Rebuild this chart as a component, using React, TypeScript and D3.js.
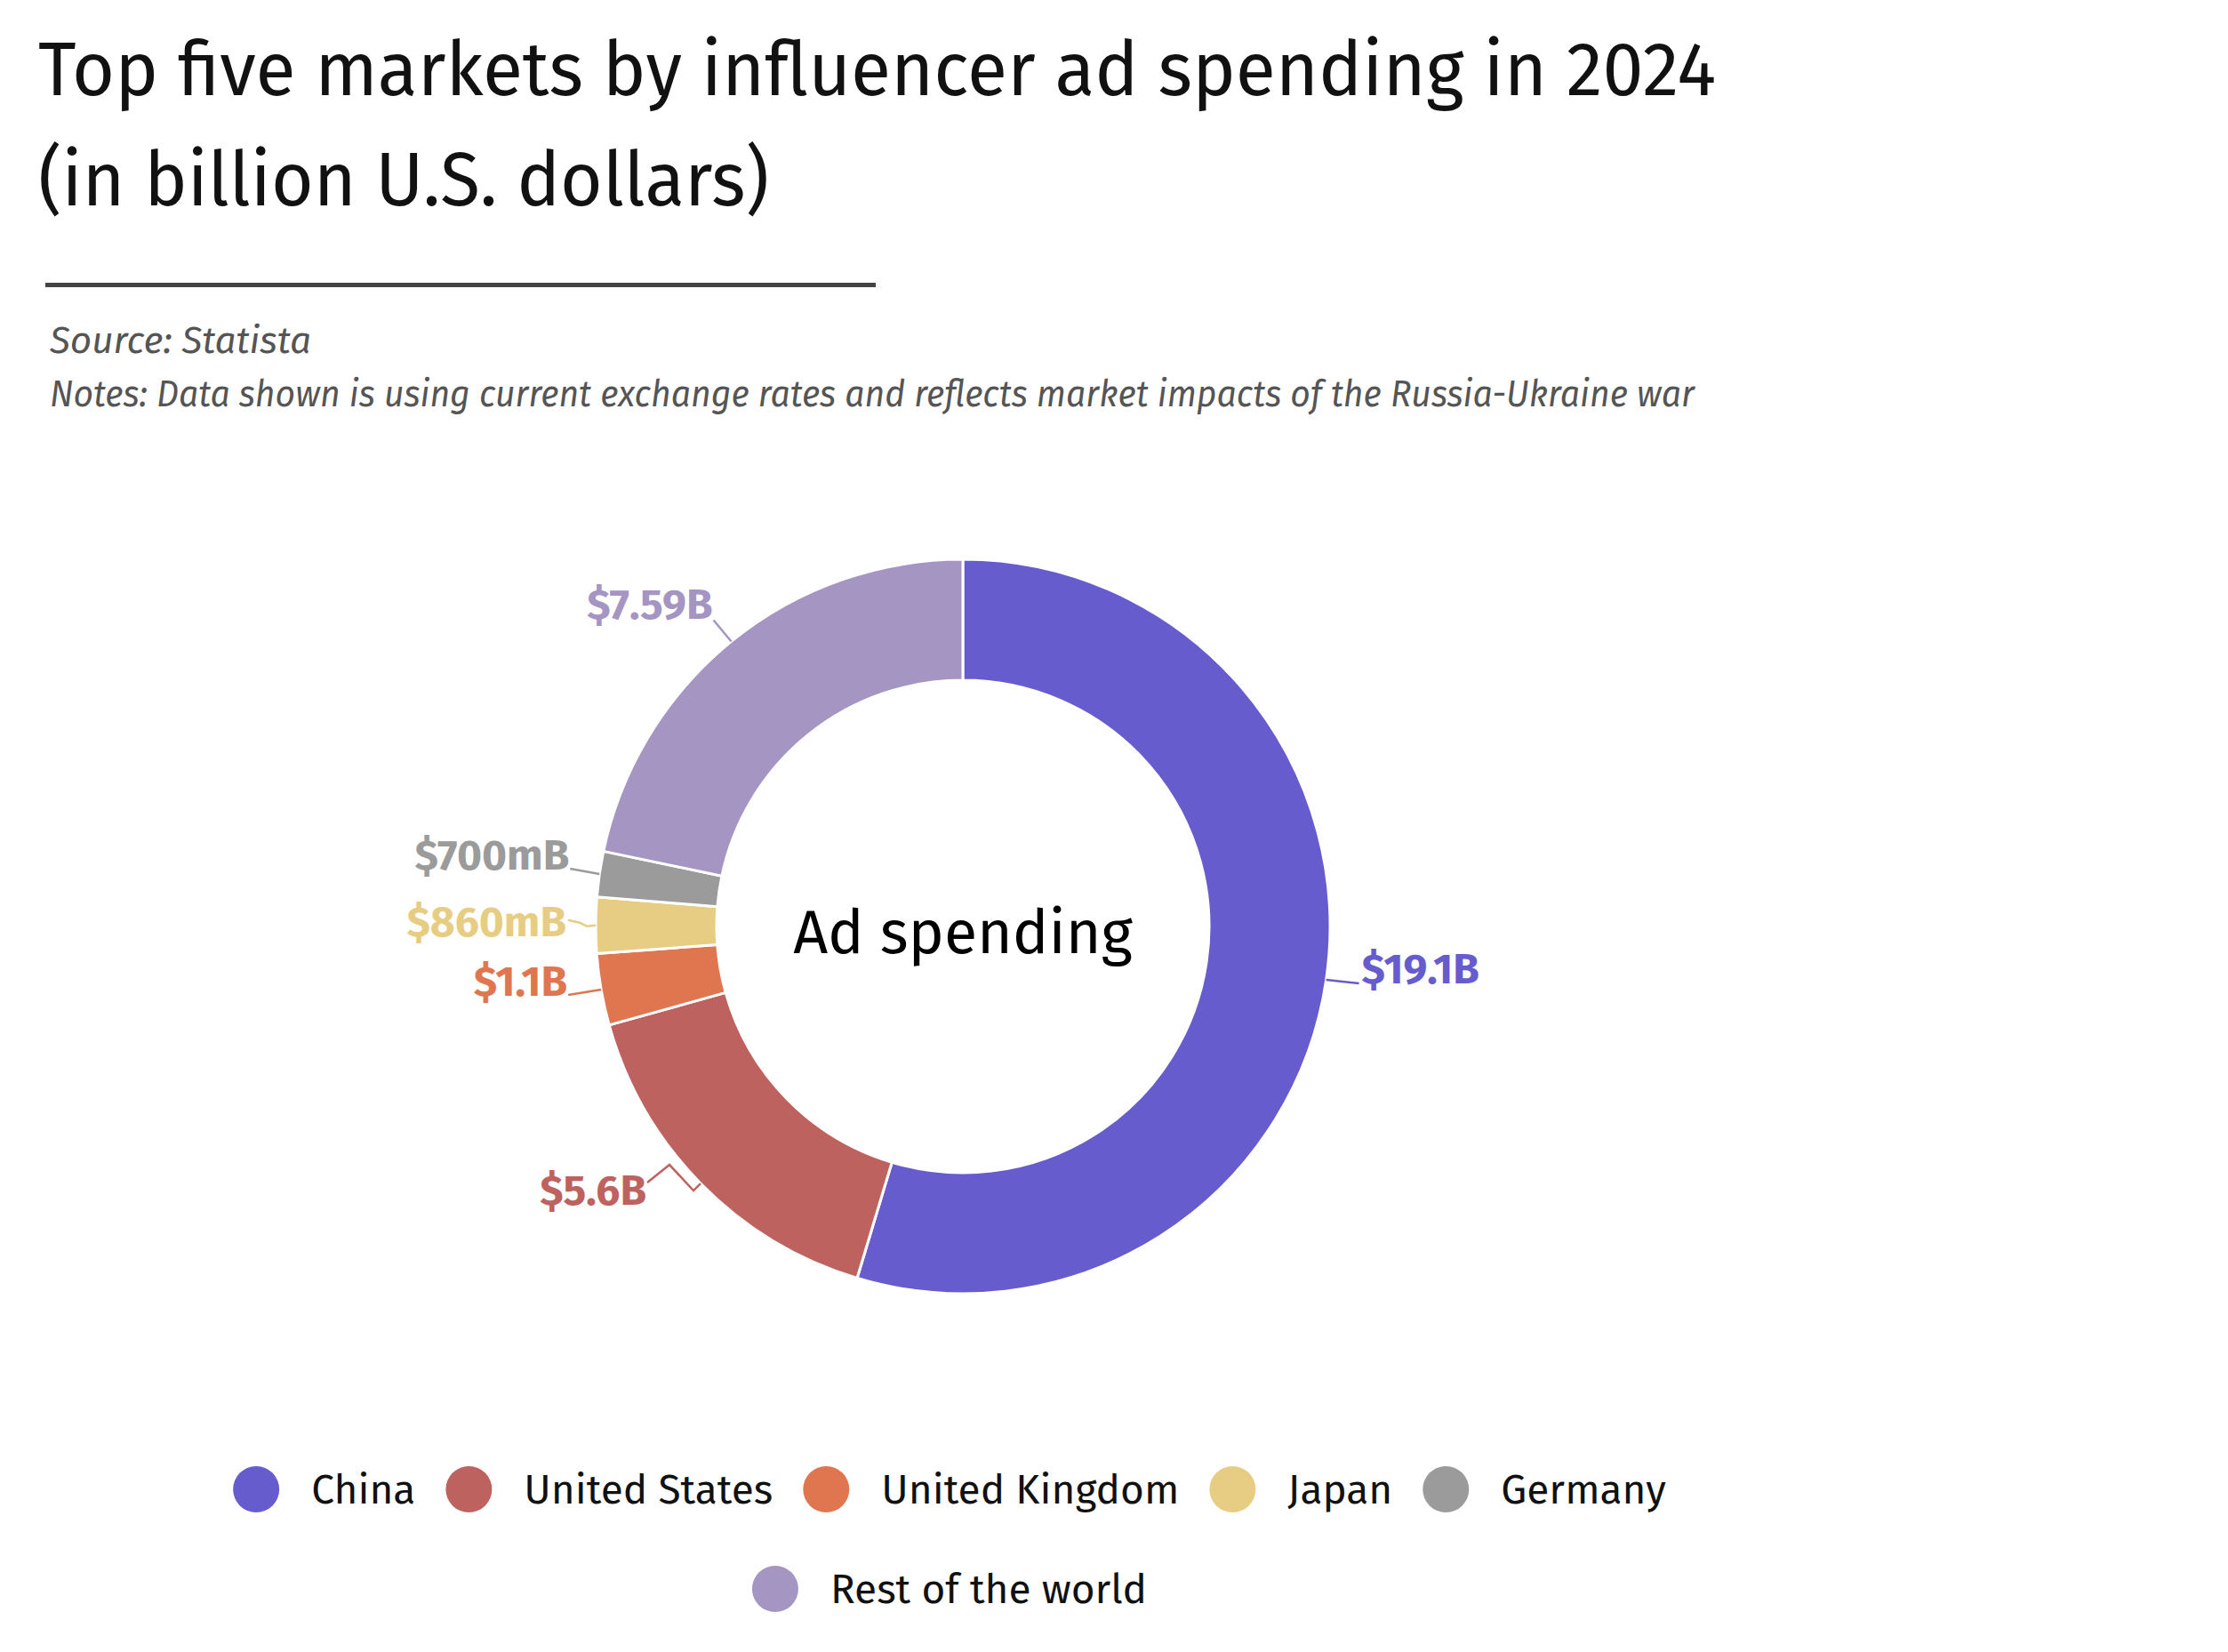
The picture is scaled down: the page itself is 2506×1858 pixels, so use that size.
import React, { useRef, useEffect } from "react";
import * as d3 from "d3";

const categories = ["China", "United States", "United Kingdom", "Japan", "Germany", "Rest of the world"];
const values = [19.1, 5.6, 1.1, 0.86, 0.7, 7.59];
const valueLabels = ["$19.1B", "$5.6B", "$1.1B", "$860mB", "$700mB", "$7.59B"];
const colors = ["#675ccd", "#be625f", "#df7650", "#e7cd83", "#9b9b9b", "#a595c2"];

const title = ["Top five markets by influencer ad spending in 2024", "(in billion U.S. dollars)"];
const source = "Source: Statista";
const notes = "Notes: Data shown is using current exchange rates and reflects market impacts of the Russia-Ukraine war";
const centerLabel = "Ad spending";

// leader lines: offsets from the outer mid point of each slice
const leaders = [
  { pts: [[37, 4]], text: [3, 0], anchor: "start" },
  { pts: [[-8, 8], [-35, -21], [-60, -1]], text: [-1, 25], anchor: "end" },
  { pts: [[-37, 6]], text: [-1, 1], anchor: "end" },
  { pts: [[-10, 1], [-18, -3], [-31, -6]], text: [-2, 18], anchor: "end" },
  { pts: [[-33, -6]], text: [-1, 1], anchor: "end" },
  { pts: [[-20, -24]], text: [-1, -1], anchor: "end" },
];

const FONT = "'Fira Sans', Roboto, 'Noto Sans', sans-serif";
const W = 2506;
const H = 1858;

const App = () => {
  const ref = useRef<SVGSVGElement>(null);

  useEffect(() => {
    const svg = d3.select(ref.current);
    svg.selectAll("*").remove();

    // header
    const head = svg.append("g").style("font-family", FONT);
    head.append("text").attr("x", 43).attr("y", 107).attr("font-size", 86).attr("fill", "#111")
      .attr("textLength", 1887).attr("lengthAdjust", "spacingAndGlyphs").text(title[0]);
    head.append("text").attr("x", 43).attr("y", 231).attr("font-size", 86).attr("fill", "#111")
      .attr("textLength", 822).attr("lengthAdjust", "spacingAndGlyphs").text(title[1]);
    head.append("rect").attr("x", 51).attr("y", 318).attr("width", 934).attr("height", 5).attr("fill", "#444");
    head.append("text").attr("x", 56).attr("y", 397).attr("font-size", 42).attr("font-style", "italic")
      .attr("fill", "#555").attr("textLength", 294).attr("lengthAdjust", "spacingAndGlyphs").text(source);
    head.append("text").attr("x", 56).attr("y", 457).attr("font-size", 42).attr("font-style", "italic")
      .attr("fill", "#555").attr("textLength", 1850).attr("lengthAdjust", "spacingAndGlyphs").text(notes);

    // donut
    const cx = 1083, cy = 1042, R = 413, r = 277;
    const data = categories.map((c, i) => ({ label: c, value: values[i], color: colors[i], text: valueLabels[i] }));
    const pie = d3.pie<any>().sort(null).value((d) => d.value);
    const arc = d3.arc<any>().innerRadius(r).outerRadius(R);
    const arcs = pie(data);

    const g = svg.append("g").attr("transform", `translate(${cx},${cy})`);
    g.selectAll("path.slice").data(arcs).enter().append("path")
      .attr("class", "slice")
      .attr("d", arc)
      .attr("fill", (d) => d.data.color)
      .attr("stroke", "#fff")
      .attr("stroke-width", 3)
      .attr("stroke-linejoin", "round");

    arcs.forEach((d, i) => {
      const a = (d.startAngle + d.endAngle) / 2;
      const p0: [number, number] = [R * Math.sin(a), -R * Math.cos(a)];
      const lay = leaders[i];
      const pts = [p0, ...lay.pts.map(([dx, dy]) => [p0[0] + dx, p0[1] + dy] as [number, number])];
      g.append("path")
        .attr("d", d3.line()(pts))
        .attr("fill", "none")
        .attr("stroke", d.data.color)
        .attr("stroke-width", 2.5);
      const end = pts[pts.length - 1];
      g.append("text")
        .attr("x", end[0] + lay.text[0])
        .attr("y", end[1] + lay.text[1])
        .attr("text-anchor", lay.anchor)
        .attr("font-size", 48)
        .attr("font-weight", 700)
        .style("font-family", FONT)
        .attr("fill", d.data.color)
        .text(d.data.text);
    });

    g.append("text").attr("x", 0).attr("y", 30).attr("text-anchor", "middle")
      .attr("font-size", 68).style("font-family", FONT).attr("fill", "#000").text(centerLabel);

    // legend, two rows centred
    const rows = [categories.slice(0, 5), categories.slice(5)];
    const rowY = [1675, 1787];
    const legendCx = 1068;
    const dotR = 26, textGap = 62, itemGap = 60;
    let idx = 0;
    rows.forEach((row, ri) => {
      const lg = svg.append("g");
      let x = 0;
      row.forEach((name) => {
        const color = colors[idx++];
        lg.append("circle").attr("cx", x).attr("cy", rowY[ri]).attr("r", dotR).attr("fill", color);
        const t = lg.append("text").attr("x", x + textGap).attr("y", rowY[ri] + 16)
          .attr("font-size", 46).style("font-family", FONT).attr("fill", "#111").text(name);
        const w = (t.node() as SVGTextElement).getComputedTextLength();
        x += textGap + w + itemGap;
      });
      const total = x - itemGap + dotR; // from left edge of first dot to end of last text
      lg.attr("transform", `translate(${legendCx - total / 2 + dotR},0)`);
    });
  }, []);

  return (
    <div style={{ position: "absolute", left: 0, top: 0, background: "#fff" }}>
      <svg ref={ref} width={W} height={H} style={{ display: "block" }}></svg>
    </div>
  );
};

export default App;
